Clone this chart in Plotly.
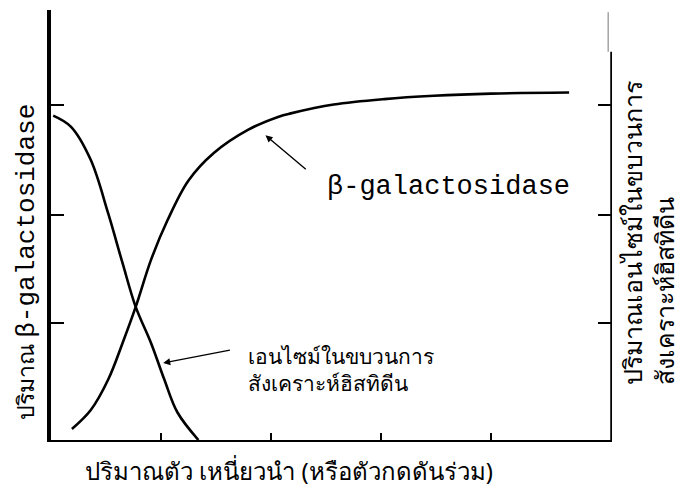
import plotly.graph_objects as go

# Rising curve: beta-galactosidase (left axis units)
bgal_x = [0.19, 0.36, 0.52, 0.65, 0.77, 0.91, 1.06, 1.25, 1.48, 1.79, 2.07, 2.18, 2.57, 3.03, 3.48, 4.00, 4.71]
bgal_y = [0.10, 0.27, 0.55, 0.88, 1.21, 1.64, 2.00, 2.36, 2.61, 2.82, 2.94, 2.97, 3.05, 3.10, 3.13, 3.15, 3.16]

# Falling curve: histidine-synthesis enzymes (right axis units)
his_x = [0.02, 0.18, 0.36, 0.52, 0.65, 0.77, 0.91, 1.03, 1.15, 1.34]
his_y = [2.95, 2.85, 2.55, 2.06, 1.61, 1.21, 0.88, 0.55, 0.25, 0.00]

x_ticks = [1.0, 2.0, 3.0, 4.0]
y_ticks = [1.06, 2.05, 3.05]

X_MAX = 5.1
Y_MAX = 3.91
RIGHT_AXIS_TOP = 3.53

MONO = "Liberation Mono"
THAI = "Noto Sans, DejaVu Sans, sans-serif"

fig = go.Figure()
fig.add_trace(go.Scatter(x=bgal_x, y=bgal_y, mode="lines",
                         line=dict(color="black", width=2.6, shape="spline", smoothing=1.0),
                         showlegend=False, hoverinfo="skip"))
fig.add_trace(go.Scatter(x=his_x, y=his_y, mode="lines", yaxis="y2",
                         line=dict(color="black", width=2.6, shape="spline", smoothing=1.0),
                         showlegend=False, hoverinfo="skip"))

# the page body has an 8px margin, so the figure is 8px smaller and margins compensate
fig.update_layout(
    width=676, height=486,
    margin=dict(l=43, r=72, t=2, b=54, autoexpand=False),
    paper_bgcolor="white", plot_bgcolor="white",
    xaxis=dict(range=[0, X_MAX], showgrid=False, zeroline=False,
               showline=True, linecolor="black", linewidth=2,
               ticks="inside", ticklen=7, tickwidth=2, tickcolor="black",
               tickvals=x_ticks, showticklabels=False),
    yaxis=dict(range=[0, Y_MAX], showgrid=False, zeroline=False,
               showline=True, linecolor="black", linewidth=4,
               ticks="inside", ticklen=13, tickwidth=1.5, tickcolor="black",
               tickvals=y_ticks, showticklabels=False),
    yaxis2=dict(range=[0, Y_MAX], overlaying="y", side="right",
                showgrid=False, zeroline=False, showline=False,
                ticks="inside", ticklen=14, tickwidth=1.5, tickcolor="black",
                tickvals=y_ticks, showticklabels=False),
)

# right axis (shorter than left)
fig.add_shape(type="line", xref="x", yref="y", x0=X_MAX, x1=X_MAX, y0=0, y1=RIGHT_AXIS_TOP,
              line=dict(color="black", width=3.5))
# faint thin line above the right axis (scan artifact)
fig.add_shape(type="line", xref="x", yref="y", x0=X_MAX - 0.035, x1=X_MAX - 0.035, y0=RIGHT_AXIS_TOP, y1=Y_MAX - 0.02,
              line=dict(color="#777", width=1))

# curve labels
fig.add_annotation(x=3.61, y=2.30, xref="x", yref="y", text="β-galactosidase",
                   showarrow=False, font=dict(family=MONO, size=27, color="black"))
fig.add_annotation(x=1.77, y=0.645, xref="x", yref="y",
                   text="เอนไซม์ในขบวนการ<br>สังเคราะห์ฮิสทิดีน",
                   showarrow=False, xanchor="left", align="left",
                   font=dict(family=THAI, size=21, color="black"))

# arrows
fig.add_annotation(x=1.95, y=2.77, ax=2.33, ay=2.45, xref="x", yref="y", axref="x", ayref="y",
                   text="", showarrow=True, arrowhead=2, arrowsize=1, arrowwidth=1.4, arrowcolor="black")
fig.add_annotation(x=1.02, y=0.70, ax=1.64, ay=0.82, xref="x", yref="y", axref="x", ayref="y",
                   text="", showarrow=True, arrowhead=2, arrowsize=1, arrowwidth=1.4, arrowcolor="black")

# axis titles
fig.add_annotation(x=-0.046, y=0.415, xref="paper", yref="paper", textangle=-90,
                   text="ปริมาณ <span style='font-family:Liberation Mono;font-size:26px'>β-galactosidase</span>",
                   showarrow=False, xanchor="center", yanchor="middle",
                   font=dict(family=THAI, size=23, color="black"))
fig.add_annotation(x=1.064, y=0.481, xref="paper", yref="paper", textangle=-90,
                   text="ปริมาณเอนไซม์ในขบวนการ<br>สังเคราะห์ฮิสทิดีน",
                   showarrow=False, xanchor="center", yanchor="middle", align="left",
                   font=dict(family=THAI, size=25, color="black"))
fig.add_annotation(x=0.424, y=-0.07, xref="paper", yref="paper",
                   text="ปริมาณตัว เหนี่ยวนำ (หรือตัวกดดันร่วม)",
                   showarrow=False, xanchor="center", yanchor="middle",
                   font=dict(family=THAI, size=24, color="black"))

fig.write_html("out.html")
